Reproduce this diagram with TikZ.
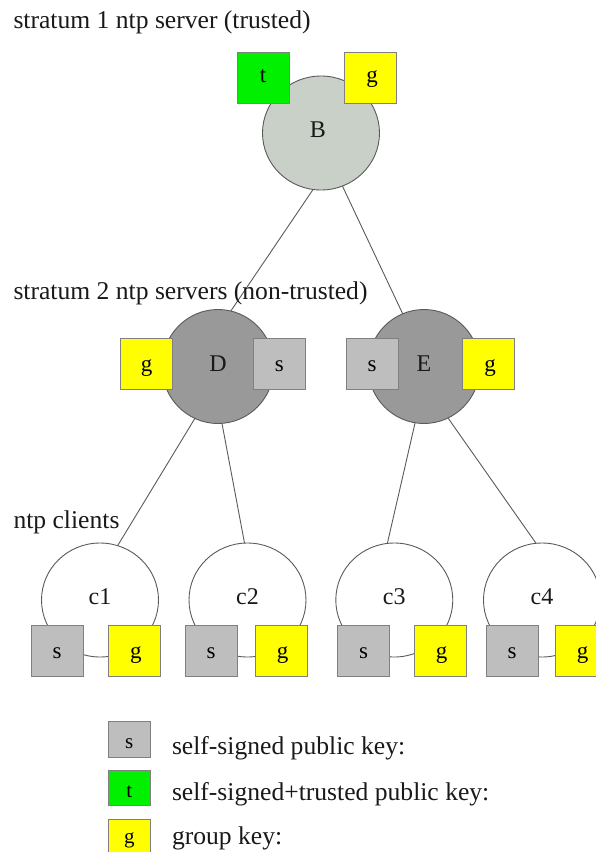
\documentclass[tikz,border=0pt]{standalone}
\usepackage{fontspec}
\setmainfont{Liberation Serif}
\usetikzlibrary{shapes.geometric}
\definecolor{linegray}{HTML}{5A5A5A}
\definecolor{boxgray}{HTML}{808080}
\definecolor{trustfill}{HTML}{C8D0C8}
\definecolor{serverfill}{HTML}{999999}
\definecolor{keygray}{HTML}{BEBEBE}
\definecolor{keygreen}{HTML}{00F000}
\definecolor{keyyellow}{HTML}{FFFF00}
\newcommand{\gkey}{\hspace*{3pt}g}
\tikzset{
  x=1pt,y=-1pt,
  host/.style={ellipse,draw=linegray,line width=0.9pt,minimum width=117pt,minimum height=114pt,inner sep=0pt,outer sep=0pt,text height=9pt,text depth=0pt,font=\fontsize{24}{26}\selectfont,text=black!90},
  link/.style={draw=linegray,line width=0.9pt},
  key/.style={rectangle,draw=boxgray,line width=0.9pt,minimum width=52pt,minimum height=51pt,inner sep=0pt,outer sep=0pt,text height=#1,text depth=0pt,font=\fontsize{23}{25}\selectfont},
  key/.default=15pt,
  legkey/.style={key=#1,minimum width=42.5pt,minimum height=35.6pt,font=\fontsize{21}{23}\selectfont},
  caption/.style={anchor=base west,inner sep=0pt,outer sep=0pt,font=\fontsize{25.6}{28}\selectfont,text=black!90},
}
\begin{document}
\begin{tikzpicture}
\useasboundingbox (0,0) rectangle (596,852);
\clip (0,0) rectangle (596,852);
\node[host,fill=trustfill] (B) at (321,133) {\hspace*{-6pt}B};
\node[host,fill=serverfill,minimum width=112pt] (D) at (218,366.5) {D};
\node[host,fill=serverfill,minimum width=112pt] (E) at (424,366.5) {E};
\node[host,fill=white] (c1) at (100,600) {c1};
\node[host,fill=white] (c2) at (247.5,600) {c2};
\node[host,fill=white] (c3) at (394.3,600) {c3};
\node[host,fill=white] (c4) at (542,600) {c4};
\draw[link] (B.262.7) -- (D.77.4);
\draw[link] (B.292) -- (E.112.4);
\draw[link] (D.246.7) -- (c1.72);
\draw[link] (D.274) -- (c2.93);
\draw[link] (E.261) -- (c3.97.4);
\draw[link] (E.295) -- (c4.96.5);
\node[key=10pt,fill=keygreen] (Bt) at (263,77.5) {t};
\node[key=10pt,fill=keyyellow] (Bg) at (370.7,77.5) {\gkey};
\node[key,fill=keyyellow] (Dg) at (146.5,363.5) {g};
\node[key,fill=keygray] (Ds) at (279.3,363.5) {s};
\node[key,fill=keygray] (Es) at (372.2,363.5) {s};
\node[key,fill=keyyellow] (Eg) at (488.7,363.5) {\gkey};
\node[key,fill=keygray] (c1s) at (57,651.2) {s};
\node[key,fill=keyyellow] (c1g) at (134.4,651.2) {\gkey};
\node[key,fill=keygray] (c2s) at (211,651.2) {s};
\node[key,fill=keyyellow] (c2g) at (281,651.2) {\gkey};
\node[key,fill=keygray] (c3s) at (363.5,651.2) {s};
\node[key,fill=keyyellow] (c3g) at (440,651.2) {\gkey};
\node[key,fill=keygray] (c4s) at (512,651.2) {s};
\node[key,fill=keyyellow] (c4g) at (581,651.2) {\gkey};
\node[legkey=18pt,fill=keygray] (ls) at (129.3,739.2) {s};
\node[legkey=20pt,fill=keygreen] (lt) at (129.3,787.8) {t};
\node[legkey=12pt,fill=keyyellow] (lg) at (129.3,837) {g};
\node[caption] (t1) at (13.5,28) {stratum 1 ntp server (trusted)};
\node[caption] (t2) at (13.5,299) {stratum 2 ntp servers (non-trusted)};
\node[caption] (t3) at (13.5,528) {ntp clients};
\node[caption] (l1) at (172,754.5) {self-signed public key:};
\node[caption] (l2) at (172,800) {self-signed+trusted public key:};
\node[caption] (l3) at (172,844) {group key:};
\end{tikzpicture}
\end{document}
